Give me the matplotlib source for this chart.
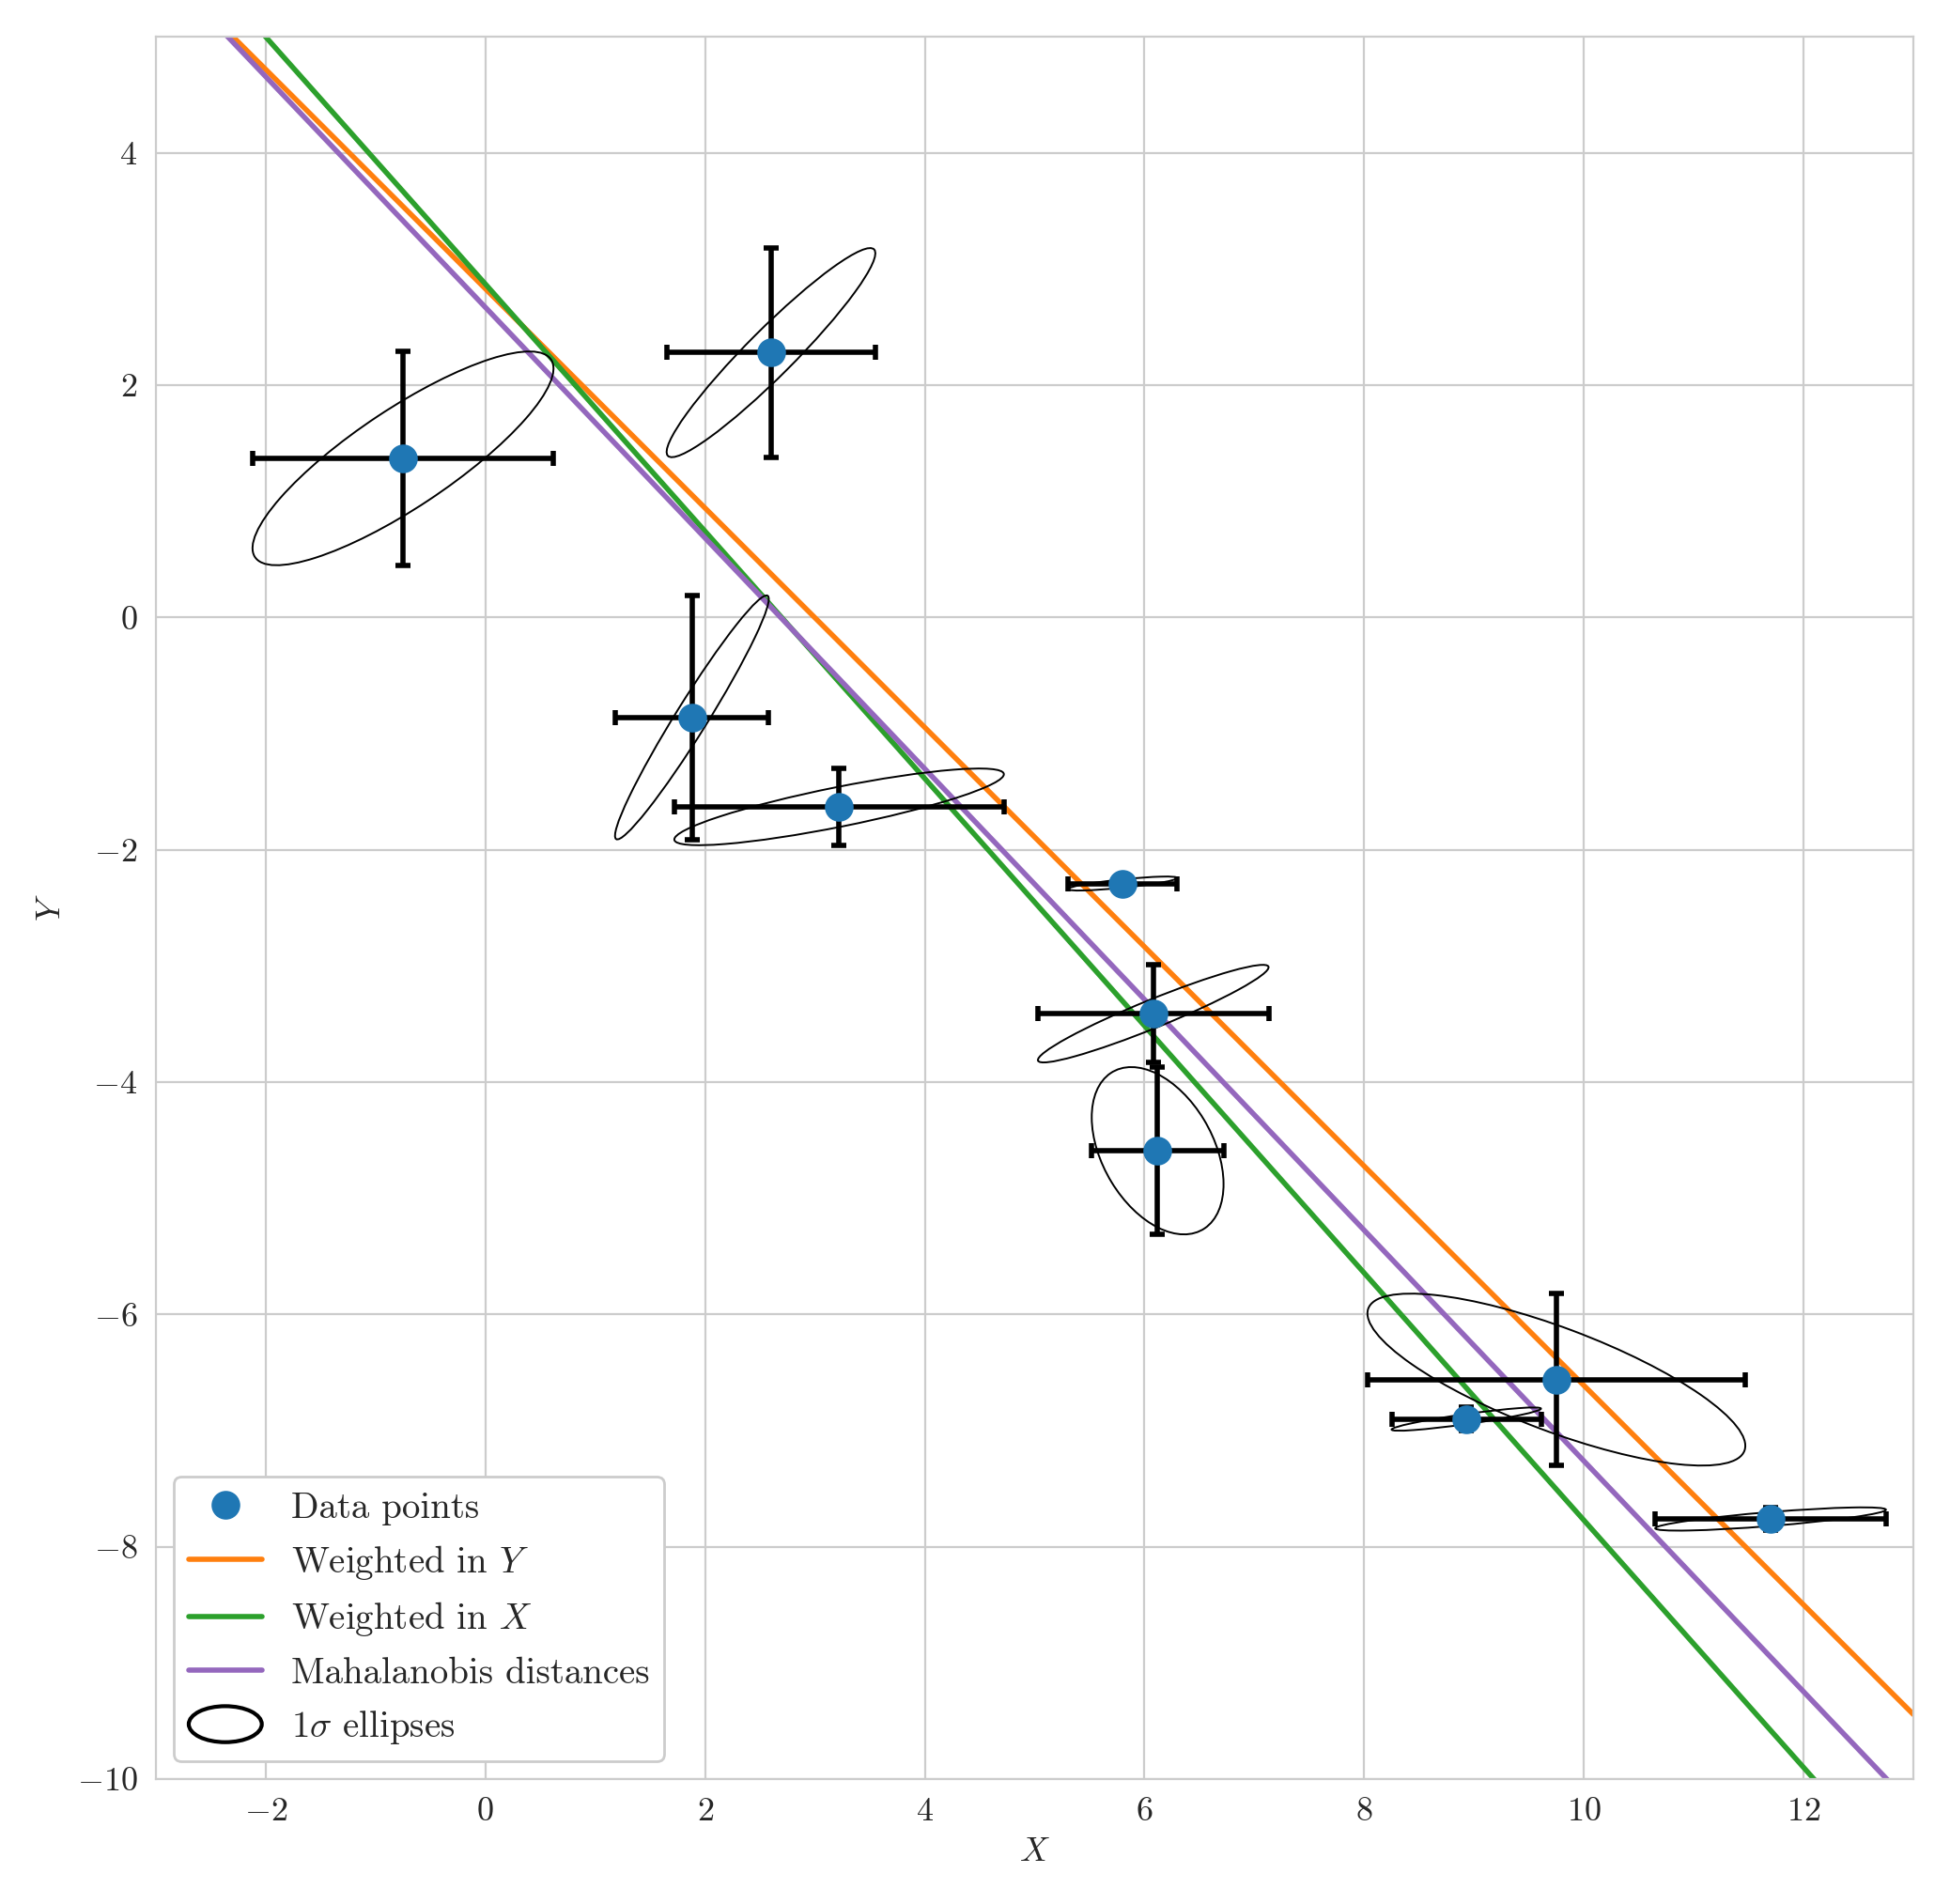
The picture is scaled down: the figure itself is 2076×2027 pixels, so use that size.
import numpy as np
import matplotlib
matplotlib.use("Agg")
import matplotlib.pyplot as plt
import seaborn as sns
from matplotlib.patches import Ellipse
from matplotlib.legend_handler import HandlerPatch

sns.set_style("whitegrid")
plt.rcParams["font.family"] = ["cmr10", "DejaVu Serif"]
plt.rcParams["mathtext.fontset"] = "cm"
plt.rcParams["axes.formatter.use_mathtext"] = True
plt.rcParams["font.size"] = 13

# data
x = [-0.75, 2.6, 1.88, 3.22, 5.8, 6.08, 6.12, 9.75, 8.93, 11.7]
y = [1.37, 2.28, -0.86, -1.63, -2.29, -3.41, -4.59, -6.56, -6.9, -7.76]
xerr = [1.37, 0.95, 0.70, 1.50, 0.50, 1.05, 0.60, 1.72, 0.68, 1.05]
yerr = [0.92, 0.90, 1.05, 0.33, 0.06, 0.42, 0.72, 0.74, 0.10, 0.10]
rho = [0.84, 0.95, 0.97, 0.85, 0.8, 0.95, -0.4, -0.77, 0.9, 0.8]

# fitted lines: (label, colour, slope, intercept)
fit_labels = ["Weighted in $Y$", "Weighted in $X$", "Mahalanobis distances"]
fit_colors = ["tab:orange", "tab:green", "tab:purple"]
slopes = [-0.944, -1.064, -0.993]
intercepts = [2.83, 2.87, 2.67]

fig, ax = plt.subplots(figsize=(10.38, 10.135), dpi=200)

ax.errorbar(x, y, xerr=xerr, yerr=yerr, fmt="none", ecolor="black",
            elinewidth=2, capsize=3, capthick=2, zorder=2)
pts, = ax.plot(x, y, "o", color="tab:blue", markersize=10, zorder=3,
               label="Data points")

for xi, yi, sx, sy, r in zip(x, y, xerr, yerr, rho):
    cov = np.array([[sx**2, r*sx*sy], [r*sx*sy, sy**2]])
    vals, vecs = np.linalg.eigh(cov)
    ang = np.degrees(np.arctan2(vecs[1, 1], vecs[0, 1]))
    e = Ellipse((xi, yi), 2*np.sqrt(vals[1]), 2*np.sqrt(vals[0]), angle=ang,
                fill=False, edgecolor="black", lw=0.7, zorder=2)
    ax.add_patch(e)

xs = np.array([-3, 13])
handles = [pts]
for lab, c, m, b in zip(fit_labels, fit_colors, slopes, intercepts):
    h, = ax.plot(xs, m*xs + b, color=c, lw=2, label=lab, zorder=1)
    handles.append(h)

ell_handle = Ellipse((0, 0), 1, 1, fill=False, edgecolor="black", lw=1.5,
                     label=r"$1\sigma$ ellipses")
handles.append(ell_handle)


def make_ellipse(legend, orig_handle, xdescent, ydescent, width, height, fontsize):
    return Ellipse((width/2 - xdescent, height/2 - ydescent), width, height + 4)


ax.legend(handles=handles, loc="lower left", fontsize=14, framealpha=1,
          edgecolor="#cccccc",
          handler_map={Ellipse: HandlerPatch(patch_func=make_ellipse)})

ax.set_xlim(-3, 13)
ax.set_ylim(-10, 5)
ax.set_xlabel("$X$")
ax.set_ylabel("$Y$")
plt.tight_layout()
plt.savefig("out.png")
